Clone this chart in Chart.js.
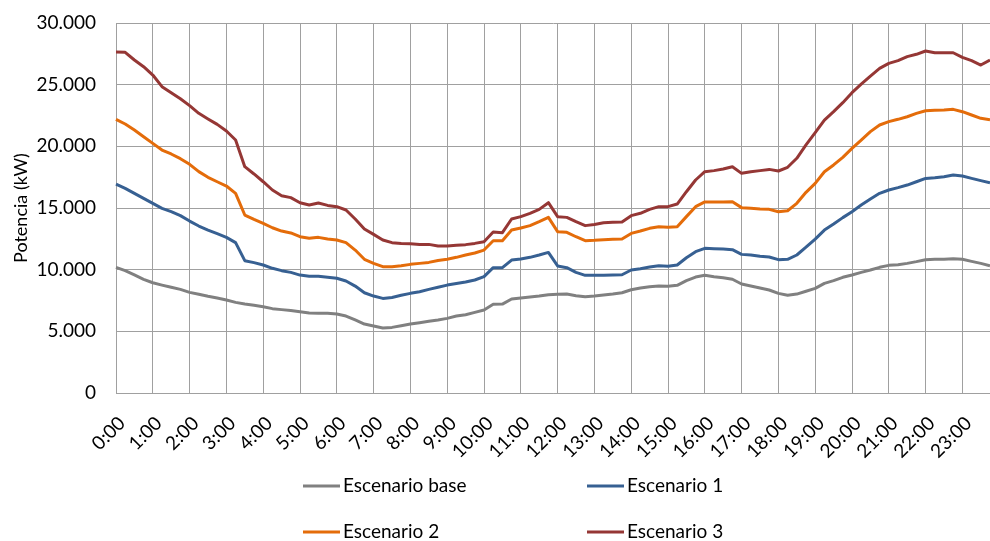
<!DOCTYPE html>
<html>
<head>
<meta charset="utf-8">
<script src="https://cdn.jsdelivr.net/npm/chart.js@4.4.1/dist/chart.umd.min.js"></script>
<style>
  html, body { margin: 0; padding: 0; background: #fff; }
  #wrap { width: 990px; height: 541px; position: relative; }
</style>
</head>
<body>
<div id="wrap"><canvas id="chart"></canvas></div>
<script>
// Potencia por escenario, cada 15 minutos (0:00 .. 23:45), en kW
const hours = ['0:00','1:00','2:00','3:00','4:00','5:00','6:00','7:00','8:00','9:00','10:00','11:00',
  '12:00','13:00','14:00','15:00','16:00','17:00','18:00','19:00','20:00','21:00','22:00','23:00'];
const quarters = ['00', '15', '30', '45'];

const seriesNames = ['Escenario base', 'Escenario 1', 'Escenario 2', 'Escenario 3'];
const seriesColors = ['#808080', '#376092', '#e46c0a', '#953735'];

const escenarioBase = [
  10190, 9920, 9570, 9220, 8940, 8750, 8570, 8400, 8160, 8000, 7840, 7700,
  7540, 7350, 7210, 7110, 7000, 6840, 6760, 6680, 6590, 6480, 6460, 6460,
  6400, 6240, 5920, 5590, 5430, 5270, 5320, 5460, 5590, 5700, 5810, 5920,
  6050, 6240, 6350, 6540, 6730, 7190, 7210, 7620, 7700, 7780, 7860, 7970,
  8000, 8020, 7890, 7810, 7860, 7940, 8020, 8130, 8370, 8510, 8620, 8670,
  8650, 8730, 9110, 9400, 9540, 9430, 9350, 9220, 8840, 8670, 8510, 8350,
  8080, 7920, 8020, 8250, 8480, 8890, 9110, 9380, 9570, 9780, 9970, 10190,
  10350, 10400, 10510, 10650, 10810, 10840, 10840, 10890, 10840, 10670, 10510, 10320
];
const escenario1 = [
  16940, 16590, 16190, 15780, 15380, 14970, 14700, 14380, 13940, 13540, 13210, 12920,
  12620, 12190, 10730, 10570, 10380, 10110, 9920, 9780, 9560, 9460, 9460, 9380,
  9300, 9080, 8670, 8130, 7860, 7670, 7750, 7920, 8080, 8210, 8400, 8570,
  8750, 8880, 9000, 9160, 9430, 10160, 10160, 10780, 10860, 11000, 11190, 11400,
  10300, 10160, 9780, 9540, 9540, 9540, 9570, 9590, 9970, 10080, 10220, 10320,
  10270, 10380, 10970, 11460, 11730, 11700, 11670, 11620, 11240, 11190, 11080, 11030,
  10810, 10840, 11190, 11820, 12480, 13210, 13700, 14220, 14700, 15240, 15730, 16190,
  16460, 16650, 16860, 17130, 17400, 17460, 17540, 17670, 17590, 17400, 17220, 17050
];
const escenario2 = [
  22190, 21810, 21320, 20780, 20240, 19700, 19380, 19000, 18540, 17950, 17490, 17130,
  16780, 16190, 14430, 14080, 13760, 13400, 13130, 12980, 12670, 12540, 12620, 12480,
  12400, 12190, 11590, 10840, 10510, 10240, 10240, 10320, 10430, 10510, 10590, 10750,
  10840, 11000, 11190, 11350, 11590, 12350, 12350, 13210, 13380, 13570, 13890, 14240,
  13080, 13030, 12670, 12350, 12380, 12430, 12460, 12480, 12940, 13130, 13350, 13480,
  13430, 13480, 14300, 15110, 15490, 15490, 15490, 15510, 15030, 14970, 14920, 14890,
  14700, 14780, 15380, 16270, 17000, 17940, 18490, 19110, 19840, 20510, 21190, 21730,
  22000, 22190, 22400, 22670, 22890, 22920, 22950, 23000, 22810, 22540, 22270, 22160
];
const escenario3 = [
  27650, 27620, 27000, 26460, 25780, 24840, 24350, 23860, 23300, 22680, 22220, 21780,
  21240, 20510, 18350, 17760, 17130, 16460, 16000, 15840, 15430, 15240, 15400, 15210,
  15110, 14840, 14110, 13300, 12860, 12400, 12190, 12130, 12110, 12050, 12050, 11920,
  11920, 11970, 12030, 12130, 12270, 13050, 13000, 14110, 14300, 14570, 14890, 15430,
  14300, 14240, 13890, 13570, 13670, 13810, 13840, 13860, 14380, 14570, 14890, 15110,
  15110, 15320, 16320, 17270, 17940, 18030, 18160, 18350, 17810, 17940, 18030, 18130,
  18000, 18300, 19030, 20110, 21110, 22130, 22810, 23540, 24350, 25050, 25700, 26320,
  26730, 26950, 27270, 27460, 27730, 27590, 27590, 27590, 27220, 26950, 26590, 27000
];

const yTicks = [0, 5000, 10000, 15000, 20000, 25000, 30000];

// etiquetas de 15 min a partir de las horas
const times = [];
hours.forEach(h => quarters.forEach(q => times.push(h.replace('00', q))));

const GRID = '#a0a0a0';
Chart.defaults.font.family = 'Lato, "Open Sans", sans-serif';
Chart.defaults.font.size = 19;
Chart.defaults.color = '#000';

// leyenda en 2 columnas, como en Excel
const gridLegend = {
  id: 'gridLegend',
  afterDraw(chart, args, opts) {
    const ctx = chart.ctx;
    ctx.save();
    ctx.font = '19px Lato, "Open Sans", sans-serif';
    ctx.textBaseline = 'middle';
    ctx.textAlign = 'left';
    chart.data.datasets.forEach((ds, i) => {
      const x = opts.cols[i % 2];
      const y = opts.rows[Math.floor(i / 2)];
      ctx.strokeStyle = ds.borderColor;
      ctx.lineWidth = 3;
      ctx.beginPath();
      ctx.moveTo(x, y);
      ctx.lineTo(x + opts.lineLen, y);
      ctx.stroke();
      ctx.fillStyle = '#000';
      ctx.fillText(ds.label, x + opts.lineLen + 3, y);
    });
    ctx.restore();
  }
};

const allSeries = [escenarioBase, escenario1, escenario2, escenario3];

new Chart(document.getElementById('chart'), {
  type: 'line',
  data: {
    labels: times,
    datasets: allSeries.map((data, i) => ({
      label: seriesNames[i],
      data,
      borderColor: seriesColors[i],
      backgroundColor: seriesColors[i],
      borderWidth: 3,
      pointRadius: 0,
      tension: 0,
      borderJoinStyle: 'round',
    })),
  },
  options: {
    responsive: true,
    maintainAspectRatio: false,
    animation: false,
    layout: { padding: { top: 23, right: 0, left: 0, bottom: 0 } },
    plugins: {
      legend: { display: false },
      tooltip: { enabled: false },
      gridLegend: { cols: [303, 587], rows: [486, 532], lineLen: 37 },
    },
    scales: {
      x: {
        afterFit: s => { s.height = 148; s.paddingRight = 0; s.paddingLeft = 0; },
        grid: {
          color: ctx => (ctx.index % 4 === 0 ? GRID : 'rgba(0,0,0,0)'),
          drawTicks: false,
        },
        border: { color: GRID },
        ticks: {
          autoSkip: false,
          maxRotation: 45,
          minRotation: 45,
          padding: 19,
          labelOffset: 6,
          callback(v, i) { return i % 4 === 0 ? this.getLabelForValue(v) : ''; },
        },
      },
      y: {
        min: 0,
        max: 30000,
        afterFit: s => { s.width = 116; s.paddingTop = 0; s.paddingBottom = 0; },
        afterBuildTicks: s => { s.ticks = yTicks.map(v => ({ value: v })); },
        grid: { color: GRID, drawTicks: false },
        border: { color: GRID },
        title: {
          display: true,
          text: 'Potencia (kW)',
          font: { size: 18 },
          padding: { top: 10, bottom: 0 },
        },
        ticks: {
          padding: 20,
          callback: v => String(v).replace(/\B(?=(\d{3})+(?!\d))/g, '.'),
        },
      },
    },
  },
  plugins: [gridLegend],
});
</script>
</body>
</html>
